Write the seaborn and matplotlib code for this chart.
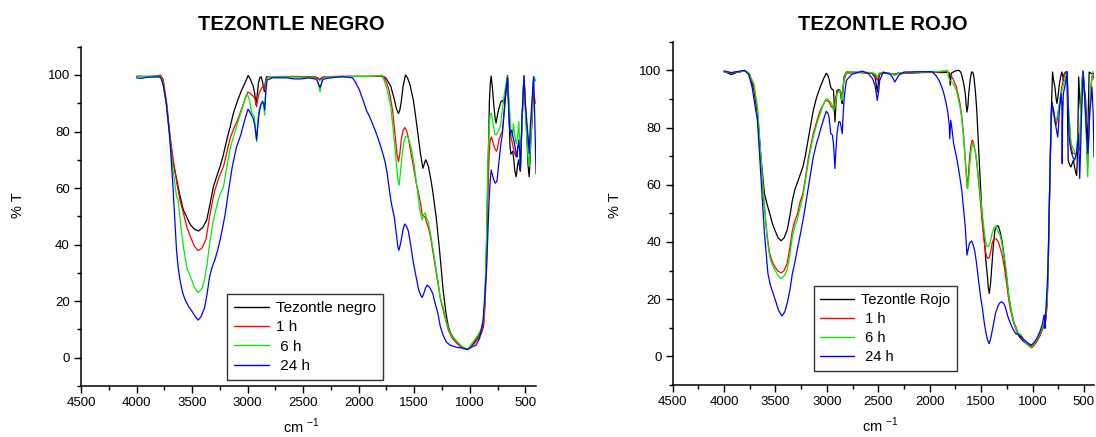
import matplotlib
matplotlib.use("Agg")
import matplotlib.pyplot as plt
from matplotlib.ticker import MultipleLocator, FixedLocator
import seaborn as sns
import pandas as pd

# ---------------- data (wavenumber cm-1, %T) ----------------
NEGRO_BASE = [(4000, 99.5), (3900, 99.4), (3800, 99.6), (3780, 99.3), (3760, 97), (3728, 88.8), (3700, 78),
              (3670, 69), (3638, 62.9), (3610, 57.5), (3578, 52.2), (3545, 49.5), (3515, 47), (3480, 45.5),
              (3443, 44.8), (3405, 46), (3368, 48.7), (3340, 54), (3308, 60.5), (3275, 64.5), (3248, 67.6),
              (3220, 71.5), (3188, 77), (3155, 82), (3128, 86.5), (3090, 91), (3053, 94.7), (3020, 97.5),
              (2995, 99.8), (2975, 98.5), (2960, 97), (2953, 96.5), (2938, 94), (2923, 89.4), (2912, 93.5),
              (2903, 97), (2890, 99), (2879, 99.4), (2868, 98), (2858, 95.9), (2849, 94.1), (2840, 97.5),
              (2830, 99.4), (2800, 99.4), (2600, 99.4), (2400, 99.3), (2370, 99), (2350, 98.3), (2330, 99.1),
              (2300, 99.4), (2100, 99.5), (1900, 99.5), (1780, 99.5), (1758, 99), (1740, 98), (1711, 96),
              (1680, 91.5), (1660, 88), (1642, 86.4), (1630, 87.5), (1617, 90.5), (1600, 96), (1579, 100),
              (1560, 99), (1538, 96.5), (1507, 91), (1476, 82), (1444, 72.3), (1422, 67), (1410, 68.5),
              (1397, 70), (1385, 69), (1372, 67.6), (1350, 63), (1334, 59), (1303, 50), (1272, 38), (1240, 24),
              (1215, 16), (1193, 11), (1170, 8.5), (1146, 7), (1115, 5.5), (1083, 4), (1050, 3.5), (1021, 3),
              (990, 3.8), (958, 5.5), (925, 7.5), (895, 9.8), (875, 13), (864, 20), (850, 38), (839, 60),
              (823, 91), (815, 97), (807, 99.6), (795, 95), (785, 90), (770, 84), (763, 83), (750, 86),
              (738, 88), (720, 90.5), (707, 91), (691, 90), (675, 95), (660, 99.8), (648, 88), (638, 75),
              (630, 72), (622, 72.5), (614, 73), (606, 71), (594, 66), (582, 64), (570, 68), (560, 70),
              (550, 67), (544, 66), (528, 85), (512, 99.8), (500, 90), (487, 79), (475, 68), (465, 64),
              (457, 70), (450, 77), (437, 90), (425, 99), (410, 98)]

NEGRO_1H = [(4000, 99.5), (3900, 99.5), (3820, 99.6), (3785, 100), (3760, 98.5), (3728, 90), (3700, 79),
            (3670, 70), (3638, 62), (3610, 56), (3578, 51), (3545, 46), (3515, 42.8), (3480, 39.5),
            (3446, 37.9), (3410, 38.8), (3374, 42), (3342, 49.9), (3311, 56.5), (3295, 59.3), (3260, 63.5),
            (3217, 67.6), (3185, 73), (3154, 78), (3120, 81.5), (3091, 84), (3050, 88.5), (3013, 92.5),
            (2997, 94), (2975, 93.5), (2960, 92.8), (2944, 92.3), (2930, 91), (2919, 88.8), (2908, 91.5),
            (2897, 93.5), (2872, 95.5), (2856, 96), (2847, 94.7), (2836, 98), (2825, 99.4), (2600, 99.5),
            (2400, 99.4), (2370, 99), (2350, 98.2), (2330, 99), (2300, 99.4), (2100, 99.5), (1900, 99.5),
            (1800, 99.5), (1774, 99.2), (1750, 97.5), (1727, 94.7), (1695, 87.6), (1673, 79), (1655, 72),
            (1642, 69.3), (1630, 72), (1617, 77), (1600, 80.5), (1585, 81.4), (1570, 80.5), (1554, 78),
            (1530, 72.5), (1507, 67.6), (1483, 62), (1460, 58), (1440, 54), (1428, 50.5), (1415, 50),
            (1403, 49.9), (1390, 48), (1372, 46), (1350, 42), (1334, 38), (1310, 32), (1287, 26), (1265, 21),
            (1240, 16.9), (1215, 13), (1193, 9.8), (1160, 7), (1115, 5), (1070, 3.6), (1021, 2.9), (990, 3.8),
            (958, 5), (925, 6.8), (895, 8.6), (875, 11), (864, 16.9), (850, 32), (839, 55.8), (825, 72),
            (816, 77), (805, 78.1), (790, 76), (775, 74), (760, 73), (750, 74), (738, 77), (720, 79),
            (707, 80), (690, 87), (675, 93), (660, 99.4), (648, 88), (638, 81.7), (630, 78), (622, 77),
            (612, 75), (597, 72.3), (582, 71), (570, 74), (559, 75.8), (550, 74), (543, 71), (528, 85),
            (512, 99.4), (500, 90), (487, 81.7), (475, 77), (465, 74.6), (450, 79), (440, 81.7), (430, 90),
            (424, 94), (410, 90)]

NEGRO_6H = [(4000, 99.5), (3900, 99.5), (3800, 99.5), (3780, 99.3), (3760, 97), (3728, 89), (3700, 77),
            (3670, 66), (3640, 57), (3625, 55.8), (3600, 46), (3578, 39.3), (3545, 31.5), (3515, 28.7),
            (3480, 25), (3446, 23), (3410, 24.5), (3389, 27.5), (3365, 33), (3342, 40.4), (3320, 46),
            (3295, 51), (3260, 56.5), (3217, 60.5), (3185, 68), (3154, 74.6), (3120, 79), (3091, 82.9),
            (3050, 88), (3013, 92.9), (2995, 92.5), (2982, 91), (2970, 88), (2960, 86.4), (2944, 85.8),
            (2930, 82), (2919, 76.4), (2908, 84), (2897, 87.6), (2878, 90), (2865, 91), (2853, 88.5),
            (2847, 85.8), (2834, 98), (2810, 99.4), (2600, 99.3), (2400, 99.2), (2370, 98), (2348, 94),
            (2330, 98.5), (2300, 99.3), (2100, 99.4), (1900, 99.5), (1800, 99.8), (1789, 100), (1770, 98),
            (1743, 94.7), (1711, 88.8), (1680, 77), (1658, 67.6), (1645, 62.5), (1636, 61), (1625, 65),
            (1611, 71), (1595, 76), (1580, 78.2), (1560, 78.4), (1540, 76), (1523, 73.5), (1500, 68),
            (1476, 60.5), (1450, 52.5), (1435, 49.5), (1428, 48.7), (1415, 50.5), (1403, 51.3), (1390, 49.5),
            (1372, 48), (1350, 43), (1334, 39.3), (1310, 33), (1287, 27.5), (1265, 21), (1240, 18),
            (1215, 13.5), (1193, 10.4), (1160, 7.5), (1115, 5.7), (1070, 4), (1021, 2.9), (990, 4.5),
            (958, 6.2), (925, 8), (895, 10.4), (875, 14), (864, 20.4), (850, 40), (839, 65), (825, 82),
            (816, 86), (805, 86.4), (790, 83), (775, 79), (761, 78.8), (745, 80), (725, 81.7), (707, 87.6),
            (690, 93), (675, 96.5), (660, 99.4), (648, 92), (638, 85), (630, 80), (622, 78), (612, 80),
            (606, 82.7), (597, 79), (582, 75.8), (570, 78), (559, 83.5), (550, 76), (544, 67.6), (528, 85),
            (512, 99.4), (500, 88), (487, 78), (475, 71), (465, 67.6), (450, 77), (440, 85), (430, 94),
            (420, 99.4), (410, 98)]

NEGRO_24H = [(4000, 99), (3960, 98.8), (3900, 99.2), (3800, 99.3), (3782, 99), (3760, 96.5), (3735, 91),
             (3703, 79), (3672, 60.5), (3640, 38), (3625, 32), (3609, 27.5), (3585, 23), (3562, 20.4),
             (3530, 18), (3499, 16.3), (3470, 14.5), (3446, 13.3), (3420, 14.5), (3389, 17.5), (3365, 22.5),
             (3342, 28.7), (3320, 32), (3295, 34.6), (3270, 38), (3248, 41.6), (3220, 47), (3201, 51),
             (3170, 59.5), (3138, 67.6), (3100, 74.5), (3060, 79), (3030, 83.5), (2997, 87.9), (2980, 87),
             (2966, 85.8), (2950, 84.7), (2935, 82), (2919, 77), (2908, 82), (2897, 86.4), (2880, 89.5),
             (2865, 90.5), (2856, 90), (2847, 87.6), (2834, 95), (2825, 98.2), (2778, 99), (2650, 99),
             (2580, 98.6), (2520, 98.6), (2450, 99), (2380, 98.5), (2348, 95.6), (2320, 98.5), (2250, 99),
             (2150, 99.4), (2056, 99), (2030, 97.5), (1993, 94.7), (1960, 91), (1931, 87.6), (1905, 85.5),
             (1883, 83.5), (1860, 81.2), (1836, 78.8), (1800, 74.5), (1774, 71), (1758, 68.5), (1743, 65),
             (1727, 60.5), (1711, 55.8), (1695, 52.5), (1680, 49.9), (1658, 42.8), (1648, 39.5), (1639, 38),
             (1628, 39.5), (1617, 41.6), (1600, 45.5), (1585, 47.3), (1570, 46.5), (1554, 45), (1530, 39.5),
             (1507, 33.4), (1483, 28.5), (1460, 24), (1440, 22), (1429, 21.3), (1415, 22.5), (1400, 24.5),
             (1382, 25.7), (1360, 24.8), (1334, 22.8), (1310, 19), (1287, 15.7), (1265, 11), (1240, 8),
             (1210, 5.5), (1178, 4.5), (1146, 4), (1115, 3.7), (1070, 3.4), (1021, 2.9), (980, 3.8),
             (942, 4.5), (910, 7), (880, 13.3), (864, 22), (848, 32), (835, 46), (826, 55.8), (815, 63),
             (807, 66.4), (795, 64.5), (785, 63), (770, 61.7), (755, 62.5), (738, 68.8), (722, 75),
             (707, 79), (690, 87), (675, 94), (660, 99), (650, 88), (638, 79), (630, 80), (622, 80.5),
             (610, 78), (597, 75.8), (582, 72), (575, 71), (560, 77), (550, 73), (544, 66.4), (530, 85),
             (512, 99.4), (500, 90), (487, 84), (475, 78), (465, 72.3), (455, 82), (440, 91), (430, 97),
             (425, 99.4), (415, 85), (403, 65)]

ROJO_BASE = [(4000, 99.5), (3960, 99), (3930, 98.5), (3880, 99.2), (3800, 99.8), (3780, 99.5), (3750, 98.5),
             (3709, 93), (3675, 84.9), (3641, 69.7), (3607, 57), (3580, 53), (3556, 50), (3530, 46.5),
             (3505, 44.1), (3475, 41.5), (3444, 40.4), (3415, 41.5), (3386, 44.1), (3360, 49), (3335, 54.6),
             (3310, 58.5), (3284, 61), (3260, 63.5), (3233, 66.2), (3210, 70), (3183, 75.6), (3160, 80.5),
             (3132, 86), (3100, 90.5), (3064, 94.2), (3035, 96.8), (3006, 99), (2990, 98.2), (2979, 97),
             (2965, 94.5), (2955, 93.6), (2935, 93), (2928, 88), (2921, 82), (2912, 88), (2901, 93),
             (2884, 93.3), (2874, 93), (2867, 91.9), (2858, 89.5), (2850, 88.4), (2842, 94), (2833, 97.7),
             (2809, 99.4), (2700, 99.3), (2560, 99), (2530, 97.5), (2510, 92.4), (2495, 97), (2486, 99),
             (2400, 99), (2370, 98.8), (2340, 98.6), (2310, 99), (2200, 99), (2000, 99.5), (1900, 99.2),
             (1830, 99.3), (1810, 99), (1800, 94.8), (1790, 99), (1750, 99.8), (1719, 100), (1700, 99.5),
             (1688, 98.3), (1670, 95.5), (1654, 92), (1645, 88), (1637, 85.4), (1628, 87.5), (1620, 92),
             (1605, 97), (1593, 99.4), (1580, 99.3), (1570, 97.7), (1555, 92.5), (1542, 86), (1530, 77),
             (1519, 68.6), (1505, 59), (1492, 50), (1480, 45), (1468, 40.6), (1455, 34), (1441, 29),
             (1430, 24), (1420, 22), (1408, 25.5), (1393, 32.5), (1380, 39), (1366, 44.1), (1345, 45.6),
             (1332, 45.6), (1315, 43.5), (1298, 40.6), (1280, 36), (1264, 31.3), (1245, 25.5), (1230, 20.8),
             (1205, 15.5), (1179, 11.5), (1150, 8.5), (1128, 6.9), (1095, 5.5), (1060, 4.5), (1030, 3.9),
             (1009, 3.6), (985, 4.5), (958, 5.7), (930, 7.3), (907, 9.2), (890, 11), (873, 12.7), (860, 18),
             (850, 27.8), (840, 45), (829, 66.2), (818, 85), (805, 99.4), (795, 96.5), (782, 94.2), (770, 90),
             (762, 88.4), (750, 91.5), (738, 95.3), (725, 98), (714, 99.4), (705, 98), (700, 96.5),
             (694, 98.5), (680, 99.4), (665, 99.5), (653, 68.6), (640, 67), (626, 66.2), (614, 67.5),
             (602, 68.5), (590, 66), (578, 64), (570, 63.3), (560, 75), (551, 97.7), (540, 90), (530, 85),
             (520, 95), (510, 99.8), (500, 95), (483, 89.5), (474, 80), (466, 69.7), (458, 85), (449, 99.4),
             (435, 99), (422, 98.8), (398, 99)]

ROJO_1H = [(4000, 99.5), (3930, 99), (3800, 99.8), (3760, 99), (3726, 96), (3709, 94.2), (3675, 86),
           (3641, 68.6), (3607, 52.3), (3580, 42), (3556, 36), (3530, 33), (3505, 31.3), (3475, 29.8),
           (3444, 29.2), (3415, 30), (3386, 32.5), (3360, 38), (3335, 44.1), (3310, 47.5), (3284, 50),
           (3260, 54), (3233, 57), (3210, 62), (3183, 68.6), (3160, 73), (3132, 77.9), (3100, 82),
           (3064, 86), (3035, 88), (3013, 89.5), (2995, 89.3), (2979, 89), (2955, 87.2), (2935, 86.6),
           (2921, 88.5), (2914, 90.7), (2894, 93), (2874, 93), (2860, 92), (2853, 91.9), (2842, 94),
           (2833, 96.5), (2809, 99), (2700, 99.2), (2560, 99), (2530, 98.3), (2510, 96.5), (2490, 98.5),
           (2450, 99), (2370, 98.8), (2340, 98.3), (2310, 98.8), (2200, 99), (2000, 99.3), (1900, 99.4),
           (1830, 99.8), (1807, 99), (1790, 98), (1773, 97), (1740, 94.2), (1705, 88.4), (1688, 84),
           (1671, 77.9), (1660, 72), (1648, 66.2), (1634, 58.7), (1624, 63), (1614, 68.6), (1600, 73.5),
           (1587, 75.6), (1575, 75), (1563, 72.5), (1553, 70.9), (1536, 65.5), (1519, 59.3), (1500, 51.5),
           (1485, 45.3), (1468, 39.5), (1451, 35.5), (1438, 34.4), (1427, 34.2), (1418, 34.8), (1405, 37),
           (1393, 39.5), (1380, 40.8), (1371, 41.2), (1350, 41), (1332, 40), (1315, 38), (1298, 36),
           (1280, 32.5), (1264, 29), (1245, 23.5), (1230, 19.5), (1213, 16), (1190, 12.5), (1162, 10.4),
           (1140, 8), (1111, 6.9), (1085, 5.5), (1060, 4.5), (1030, 3.5), (1009, 3), (985, 3.8), (958, 5.1),
           (930, 7), (907, 9.2), (890, 10.5), (873, 12.1), (862, 16), (850, 25.5), (840, 45), (829, 66.2),
           (818, 82), (812, 86), (805, 86.5), (795, 85), (782, 82), (772, 80.8), (762, 82), (748, 86),
           (738, 88), (721, 93), (700, 97), (687, 98.8), (663, 99.4), (653, 87), (646, 83.7), (635, 78),
           (625, 73.2), (610, 71), (595, 70.9), (578, 70.5), (568, 72), (558, 77.9), (550, 75), (541, 72),
           (530, 85), (524, 90), (507, 99.4), (495, 92), (483, 84.9), (470, 72), (463, 66.2), (455, 75),
           (442, 88.4), (430, 95), (415, 98.8), (398, 96.5)]

ROJO_6H = [(4000, 99.5), (3930, 99.2), (3800, 99.8), (3760, 99), (3726, 96.5), (3709, 95.3), (3675, 87.2),
           (3641, 69.7), (3607, 52.3), (3580, 41), (3556, 34.8), (3530, 32), (3505, 30.2), (3475, 28.3),
           (3444, 27.2), (3415, 28.2), (3386, 30.2), (3360, 35.5), (3335, 41.8), (3310, 45.5), (3284, 48.2),
           (3260, 52), (3233, 55.8), (3210, 61), (3183, 67.4), (3160, 72), (3132, 76.7), (3100, 81),
           (3064, 84.9), (3035, 88), (3006, 90.1), (2990, 89.8), (2979, 89.5), (2955, 88.5), (2935, 86),
           (2921, 87), (2914, 89), (2901, 91.9), (2877, 93), (2860, 91.5), (2853, 89.5), (2842, 94),
           (2833, 97), (2809, 99.4), (2700, 99.4), (2560, 99.2), (2530, 98.8), (2510, 97.7), (2490, 99),
           (2450, 99.2), (2370, 98.8), (2340, 98.3), (2310, 99), (2200, 99.2), (2000, 99.4), (1900, 99.6),
           (1830, 100), (1807, 96.5), (1790, 96), (1773, 95.3), (1740, 93), (1705, 87.2), (1688, 83),
           (1671, 76.7), (1660, 71), (1648, 65.1), (1631, 58.7), (1620, 62), (1610, 67.4), (1595, 72.5),
           (1580, 74.6), (1565, 73), (1546, 69.7), (1530, 64), (1512, 58.1), (1495, 52), (1478, 46.4),
           (1460, 41), (1444, 38.3), (1430, 38.5), (1420, 38.9), (1405, 41), (1393, 43), (1375, 45),
           (1356, 45.6), (1340, 44), (1315, 42.4), (1298, 39.5), (1280, 35.5), (1264, 32.5), (1245, 26.5),
           (1230, 20.8), (1205, 15.5), (1179, 11.5), (1150, 8.5), (1111, 7.5), (1085, 5.8), (1060, 4.5),
           (1030, 3.6), (1009, 3.4), (985, 4.3), (958, 5.7), (930, 7.8), (907, 9.8), (890, 11.5),
           (873, 13.9), (860, 19), (850, 26.7), (840, 45), (829, 66.2), (818, 83), (812, 87.2), (805, 87.5),
           (795, 86), (782, 83.5), (772, 82.5), (762, 83.5), (748, 86), (738, 88.5), (721, 91.9), (700, 95),
           (687, 96.5), (663, 99.4), (653, 88), (646, 84.9), (635, 79), (625, 74.4), (610, 73), (595, 72),
           (585, 70.5), (578, 69.7), (568, 73), (558, 77.9), (550, 75.5), (541, 73.2), (530, 88), (524, 94),
           (507, 99.4), (495, 92), (483, 83.7), (472, 72), (463, 62.7), (455, 75), (442, 86), (430, 95),
           (415, 99.4), (398, 99.4)]

ROJO_24H = [(4000, 99.8), (3930, 99.2), (3800, 100), (3760, 98.5), (3726, 94), (3709, 90), (3675, 82.5),
            (3641, 62.7), (3607, 43), (3573, 29), (3550, 25), (3522, 22), (3495, 19), (3471, 16.2),
            (3437, 14.1), (3410, 15.5), (3386, 18.5), (3360, 23), (3335, 29), (3310, 33), (3295, 36),
            (3270, 40.5), (3250, 44.1), (3225, 49), (3200, 54.6), (3165, 62.5), (3132, 69.7), (3100, 74.5),
            (3064, 79), (3035, 82.5), (3006, 85.7), (2990, 85), (2979, 83.7), (2962, 77.9), (2945, 77.3),
            (2935, 74), (2928, 70), (2921, 65.7), (2912, 72), (2901, 77.9), (2884, 82), (2874, 82),
            (2867, 81.4), (2858, 79.5), (2850, 77.9), (2842, 84), (2833, 89.5), (2820, 94), (2809, 96.5),
            (2758, 98.6), (2656, 99.7), (2600, 99), (2554, 97), (2530, 94.5), (2510, 89.5), (2495, 93),
            (2486, 96.5), (2452, 99.4), (2384, 98.6), (2360, 97.5), (2340, 95.9), (2320, 97), (2300, 98.3),
            (2250, 99.4), (2100, 99.5), (1977, 99.5), (1940, 98.2), (1909, 96.5), (1880, 94), (1858, 91.3),
            (1840, 88.5), (1824, 85.4), (1810, 81), (1805, 76.1), (1800, 79), (1795, 82.5), (1785, 80),
            (1767, 74.4), (1750, 71.5), (1733, 68.6), (1710, 63.5), (1688, 58.1), (1670, 51.5), (1654, 45.3),
            (1645, 40), (1637, 35.4), (1625, 37.5), (1613, 39.5), (1593, 40.4), (1578, 39), (1563, 37.1),
            (1546, 33), (1529, 27.8), (1507, 21.5), (1485, 16.2), (1468, 11.5), (1451, 8), (1435, 5.5),
            (1421, 4.5), (1405, 6.5), (1384, 10.4), (1360, 15), (1333, 17.9), (1315, 18.8), (1299, 19.1),
            (1280, 18.5), (1265, 17.3), (1240, 14), (1214, 11.5), (1190, 9.5), (1163, 8), (1135, 7.5),
            (1111, 6.9), (1085, 6), (1060, 5.1), (1035, 4.4), (1009, 4), (985, 4.8), (958, 6.3), (930, 8.5),
            (907, 10.9), (890, 13.9), (884, 14.5), (880, 9.8), (875, 12), (870, 16.2), (860, 23),
            (849, 31.3), (840, 48), (829, 66.2), (820, 80), (812, 88.9), (805, 87.5), (795, 86), (782, 82.5),
            (772, 80.2), (755, 76.7), (748, 80), (738, 86), (721, 91.9), (714, 88), (711, 67.4), (708, 82),
            (700, 91.9), (680, 95.3), (663, 99.4), (646, 77.9), (635, 74), (619, 70.9), (605, 69.5),
            (591, 68.6), (575, 70.5), (565, 73), (554, 77.9), (548, 70), (541, 62.2), (530, 75), (524, 83.7),
            (507, 99.4), (495, 92), (483, 83.7), (470, 75), (461, 70.9), (450, 80), (442, 86), (430, 90),
            (422, 94.2), (410, 85), (402, 69.7)]

NEGRO_LABELS = ["Tezontle negro", "1 h", " 6 h", " 24 h"]
ROJO_LABELS = ["Tezontle Rojo", " 1 h", " 6 h", " 24 h"]
COLORS = ["#000000", "#ff0000", "#00ee00", "#0000ff"]
X_TICKS = [4500, 4000, 3500, 3000, 2500, 2000, 1500, 1000, 500]
Y_TICKS = [0, 20, 40, 60, 80, 100]

# ---------------- figure ----------------
sns.set_theme(style="ticks")
plt.rcParams["font.family"] = ["Liberation Sans", "DejaVu Sans"]
plt.rcParams["mathtext.fontset"] = "custom"
plt.rcParams["mathtext.rm"] = "Liberation Sans"
plt.rcParams["text.color"] = "black"
plt.rcParams["axes.labelcolor"] = "black"
plt.rcParams["xtick.color"] = "black"
plt.rcParams["ytick.color"] = "black"
plt.rcParams["legend.labelcolor"] = "black"

W, H = 1096, 437
fig = plt.figure(figsize=(W / 100, H / 100), dpi=100)
fig.patch.set_facecolor("white")


def px_axes(l, r, t, b):
    return fig.add_axes([l / W, 1 - b / H, (r - l) / W, (b - t) / H])


def build_df(series, labels):
    rows = []
    for data, lab in zip(series, labels):
        for wn, t in data:
            rows.append({"wn": wn, "T": t, "series": lab})
    return pd.DataFrame(rows)


def draw(ax, series, labels, legend_anchor, legend_fs, ylab_x, ylab_y, xlab_x):
    df = build_df(series, labels)
    sns.lineplot(data=df, x="wn", y="T", hue="series", hue_order=labels,
                 palette=dict(zip(labels, COLORS)), sort=False, estimator=None,
                 linewidth=0.9, legend=False, ax=ax)
    ax.set_xlim(4500, 400)
    ax.set_ylim(-10, 110)
    ax.xaxis.set_major_locator(FixedLocator(X_TICKS))
    ax.xaxis.set_minor_locator(MultipleLocator(250))
    ax.yaxis.set_major_locator(FixedLocator(Y_TICKS))
    ax.yaxis.set_minor_locator(MultipleLocator(10))
    ax.tick_params(axis="both", which="major", direction="out", length=5, width=1,
                   labelsize=9.5, colors="black", pad=3)
    ax.tick_params(axis="both", which="minor", direction="out", length=3, width=1, colors="black")
    for s in ["top", "right"]:
        ax.spines[s].set_visible(False)
    for s in ["left", "bottom"]:
        ax.spines[s].set_color("black")
        ax.spines[s].set_linewidth(1.1)
    ax.set_facecolor("white")
    ax.set_ylabel("% T", fontsize=10.5, color="black")
    ax.yaxis.set_label_coords(ylab_x, ylab_y)
    ax.set_xlabel("cm $^{\\mathregular{-1}}$", fontsize=10.5, color="black")
    ax.xaxis.set_label_coords(xlab_x, -0.09)
    handles = ax.get_lines()[:4]
    leg = ax.legend(handles, labels, loc="lower left", bbox_to_anchor=legend_anchor,
                    fontsize=legend_fs, frameon=True, fancybox=False, shadow=False,
                    handlelength=2.3, handletextpad=0.5, labelspacing=0.35,
                    borderpad=0.45, borderaxespad=0)
    leg.get_frame().set_edgecolor("black")
    leg.get_frame().set_linewidth(1.0)
    for txt in leg.get_texts():
        txt.set_color("black")
    for ln in leg.get_lines():
        ln.set_linewidth(1.0)


ax1 = px_axes(81, 536.4, 46.7, 386)
draw(ax1, [NEGRO_BASE, NEGRO_1H, NEGRO_6H, NEGRO_24H], NEGRO_LABELS,
     (0.32, 0.018), 11, -0.123, 0.533, 0.485)
ax2 = px_axes(672.6, 1094.2, 41.7, 385)
draw(ax2, [ROJO_BASE, ROJO_1H, ROJO_6H, ROJO_24H], ROJO_LABELS,
     (0.335, 0.041), 10.5, -0.12, 0.524, 0.494)

fig.text(291.4 / W, 1 - 25 / H, "TEZONTLE NEGRO", ha="center", va="center",
         fontsize=14.5, fontweight="bold", color="black")
fig.text(883 / W, 1 - 25 / H, "TEZONTLE ROJO", ha="center", va="center",
         fontsize=14.5, fontweight="bold", color="black")

fig.savefig("out.png", dpi=100, facecolor="white")
